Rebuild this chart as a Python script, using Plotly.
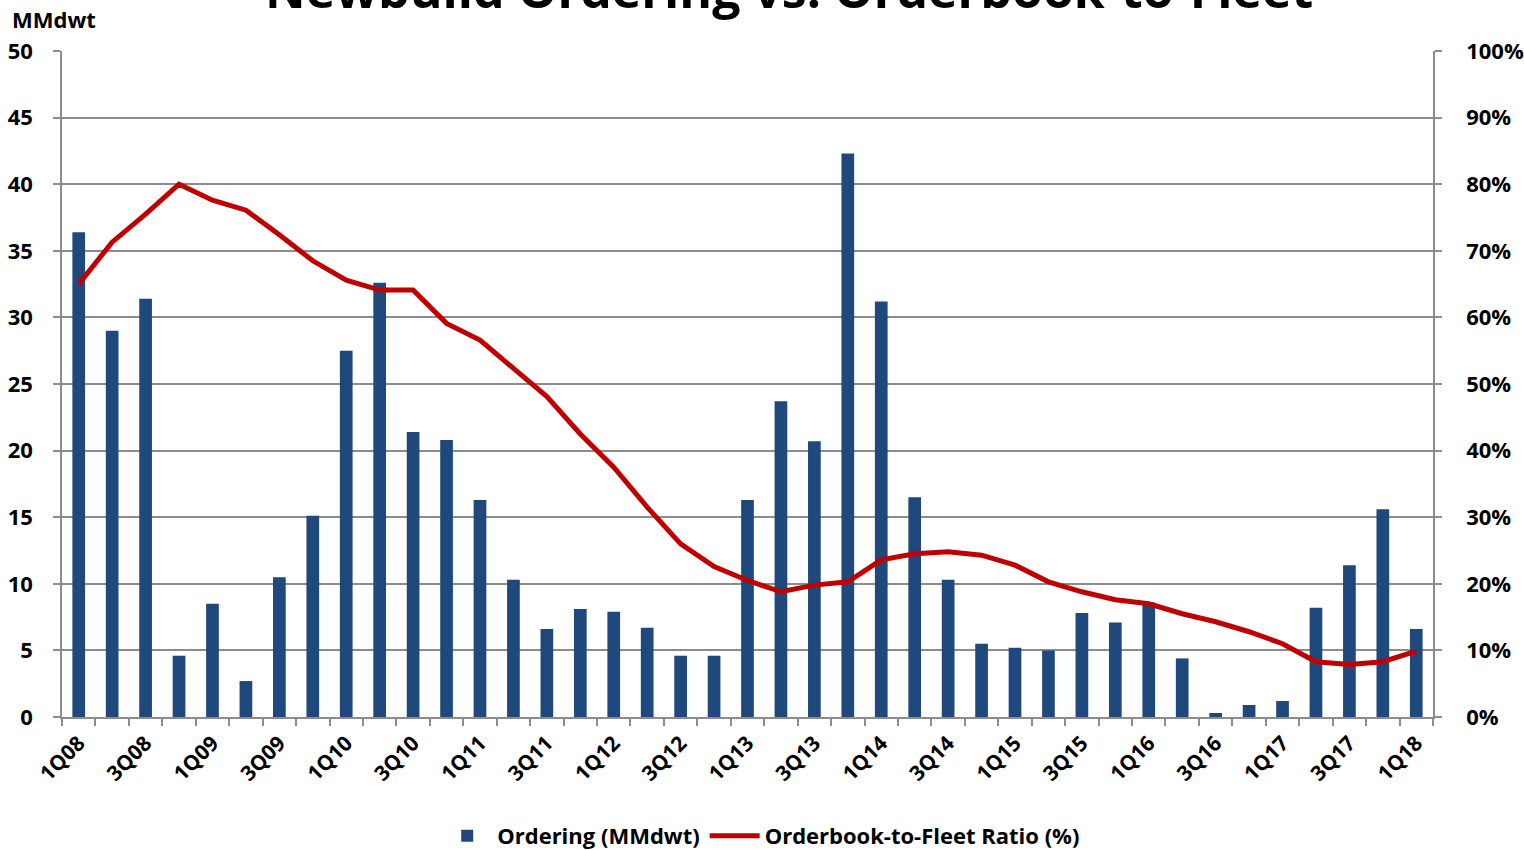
import plotly.graph_objects as go

quarters = [
    "1Q08", "2Q08", "3Q08", "4Q08",
    "1Q09", "2Q09", "3Q09", "4Q09",
    "1Q10", "2Q10", "3Q10", "4Q10",
    "1Q11", "2Q11", "3Q11", "4Q11",
    "1Q12", "2Q12", "3Q12", "4Q12",
    "1Q13", "2Q13", "3Q13", "4Q13",
    "1Q14", "2Q14", "3Q14", "4Q14",
    "1Q15", "2Q15", "3Q15", "4Q15",
    "1Q16", "2Q16", "3Q16", "4Q16",
    "1Q17", "2Q17", "3Q17", "4Q17",
    "1Q18",
]

ordering_mmdwt = [
    36.4, 29.0, 31.4, 4.6,
    8.5, 2.7, 10.5, 15.1,
    27.5, 32.6, 21.4, 20.8,
    16.3, 10.3, 6.6, 8.1,
    7.9, 6.7, 4.6, 4.6,
    16.3, 23.7, 20.7, 42.3,
    31.2, 16.5, 10.3, 5.5,
    5.2, 5.0, 7.8, 7.1,
    8.6, 4.4, 0.3, 0.9,
    1.2, 8.2, 11.4, 15.6,
    6.6,
]

orderbook_ratio_pct = [
    65.0, 71.3, 75.5, 80.0,
    77.6, 76.1, 72.4, 68.5,
    65.6, 64.1, 64.1, 59.1,
    56.6, 52.3, 48.1, 42.5,
    37.5, 31.5, 26.0, 22.6,
    20.5, 18.8, 19.8, 20.3,
    23.6, 24.5, 24.8, 24.3,
    22.8, 20.3, 18.8, 17.6,
    17.0, 15.5, 14.3, 12.8,
    11.0, 8.3, 7.9, 8.3,
    9.9,
]

left_ticks = [0, 5, 10, 15, 20, 25, 30, 35, 40, 45, 50]
right_ticks = [0, 10, 20, 30, 40, 50, 60, 70, 80, 90, 100]
right_tick_text = [f"{v}%" for v in right_ticks]
x_tick_text = [q if i % 2 == 0 else "" for i, q in enumerate(quarters)]

title_text = "Newbuild Ordering vs. Orderbook-to-Fleet"
left_unit = "MMdwt"

FONT = "Open Sans"
BLUE = "#1F497D"
RED = "#C00000"
GRID = "#8C8C8C"

fig = go.Figure()
fig.add_trace(go.Bar(
    x=quarters, y=ordering_mmdwt, name="Ordering (MMdwt)",
    marker=dict(color=BLUE, line=dict(width=0)),
    yaxis="y",
))
fig.add_trace(go.Scatter(
    x=quarters, y=orderbook_ratio_pct, name="Orderbook-to-Fleet Ratio (%)",
    mode="lines", line=dict(color=RED, width=5),
    yaxis="y2",
))

fig.update_layout(
    width=1524, height=850,
    margin=dict(l=62, r=91, t=51, b=133, autoexpand=False),
    paper_bgcolor="white", plot_bgcolor="white",
    bargap=0.62,
    font=dict(family=FONT, color="black", size=22, weight="bold"),
    showlegend=True,
    legend=dict(
        orientation="h", x=0.51, xanchor="center",
        yref="container", y=1 - 836 / 850, yanchor="middle",
        font=dict(family=FONT, size=22, weight="bold", color="black"),
        itemwidth=50, traceorder="normal",
    ),
    xaxis=dict(
        type="category", categoryorder="array", categoryarray=quarters,
        tickmode="array", tickvals=quarters, ticktext=x_tick_text,
        tickangle=-45, tickson="boundaries", ticks="outside", ticklen=7,
        tickcolor=GRID, tickwidth=1.5,
        showline=True, linecolor=GRID, linewidth=1.5,
        showgrid=False, range=[-0.5, len(quarters) - 0.5],
        tickfont=dict(family=FONT, size=21, weight="bold"),
        ticklabelstandoff=4, automargin=False,
    ),
    yaxis=dict(
        range=[0, 50], tickmode="array", tickvals=left_ticks,
        showgrid=True, gridcolor=GRID, gridwidth=1.5,
        showline=True, linecolor=GRID, linewidth=1.5,
        ticks="outside", ticklen=7, tickcolor=GRID, tickwidth=1.5,
        ticklabelstandoff=16, automargin=False,
        tickfont=dict(family=FONT, size=22, weight="bold"),
        zeroline=False,
    ),
    yaxis2=dict(
        range=[0, 100], overlaying="y", side="right",
        tickmode="array", tickvals=right_ticks, ticktext=right_tick_text,
        showgrid=False,
        showline=True, linecolor=GRID, linewidth=1.5,
        ticks="outside", ticklen=7, tickcolor=GRID, tickwidth=1.5,
        ticklabelstandoff=20, automargin=False,
        tickfont=dict(family=FONT, size=22, weight="bold"),
        zeroline=False,
    ),
)

fig.add_annotation(
    text=title_text, xref="paper", yref="paper", x=0.53, y=1,
    xanchor="center", yanchor="bottom", yshift=26, showarrow=False,
    font=dict(family=FONT, size=50, weight="bold", color="black"),
)
fig.add_annotation(
    text=left_unit, xref="paper", yref="paper", x=0, y=1,
    xanchor="left", yanchor="bottom", xshift=-52, yshift=15, showarrow=False,
    font=dict(family=FONT, size=22, weight="bold", color="black"),
)

fig.write_html("out.html")
